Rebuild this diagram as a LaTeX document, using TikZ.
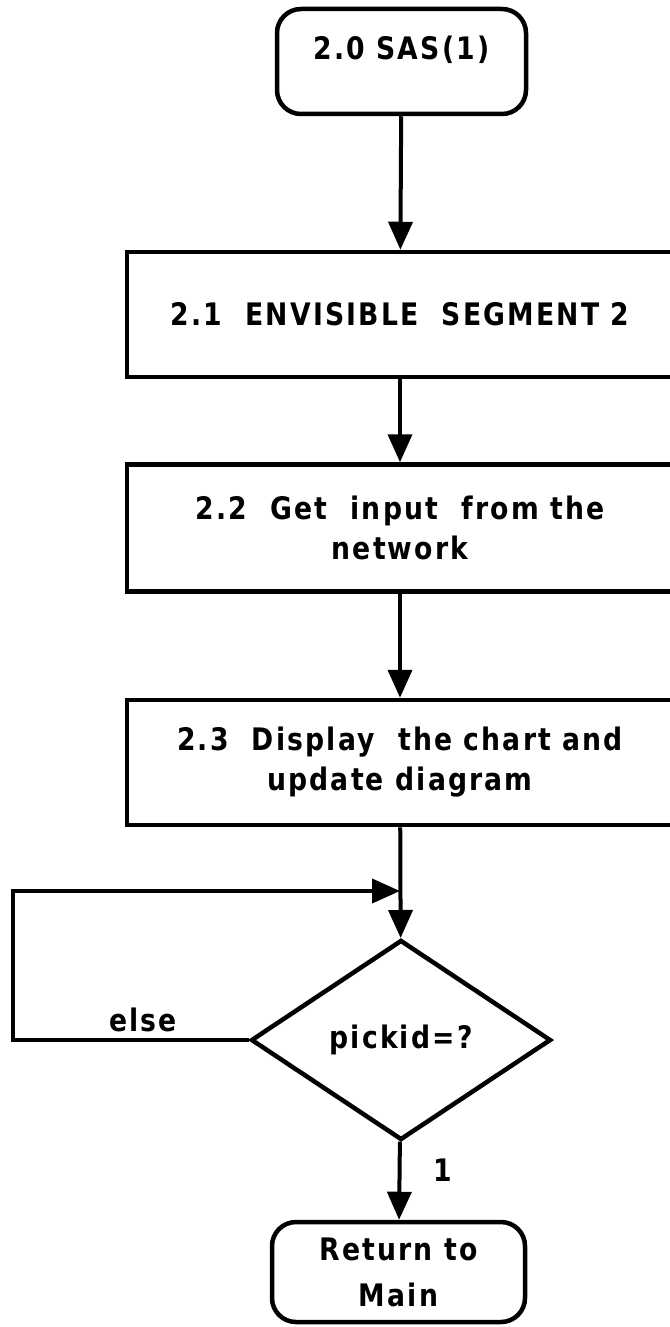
\documentclass[tikz,border=0pt]{standalone}
\usepackage{fontspec}
\setmainfont{DejaVu Sans}[FakeStretch=0.86,LetterSpace=7]
\usetikzlibrary{arrows.meta,shapes.geometric}
\newcommand{\dsp}{\hspace{0.75em}}
\begin{document}
\begin{tikzpicture}[x=1pt,y=-1pt,line width=4.5pt,
  font=\fontsize{31}{40}\selectfont\bfseries,
  box/.style={draw,rectangle,inner sep=0pt,align=center,minimum width=546pt},
  rbox/.style={draw,rounded corners=24pt,inner sep=0pt,align=center},
  dec/.style={draw,diamond,inner sep=0pt,minimum width=300pt,minimum height=200pt},
  arr/.style={-{Triangle[width=24pt,length=28pt]},line width=4pt}]
\useasboundingbox (0,0) rectangle (669,1327);
\node[rbox,minimum width=249pt,minimum height=105pt] (start) at (401.5,61.5) {\raisebox{2pt}[0pt][0pt]{2.0 SAS(1)}};
\node[box,minimum height=125pt] (r1) at (400,314.5) {2.1\dsp ENVISIBLE\dsp SEGMENT 2};
\node[box,minimum height=127pt] (r2) at (400,528) {2.2\dsp Get\dsp input\dsp from the\\network};
\node[box,minimum height=125pt] (r3) at (400,762.5) {2.3\dsp Display\dsp the chart and\\update diagram};
\node[dec] (dia) at (401,1040) {pickid=?};
\node[rbox,minimum width=253pt,minimum height=100pt,font=\fontsize{31}{46}\selectfont\bfseries] (end) at (398.5,1272) {Return to\\Main};
\coordinate (join) at (400,891);
\node (elselbl) at (143,1020) {else};
\node (onelbl) at (443,1170) {1};
\draw[arr] (start) -- (r1);
\draw[arr] (r1) -- (r2);
\draw[arr] (r2) -- (r3);
\draw[arr] (r3) -- (dia);
\draw[arr] (dia) -- (end);
\draw[arr] (dia.west) -- ++(-236,0) |- (join);
\end{tikzpicture}
\end{document}
